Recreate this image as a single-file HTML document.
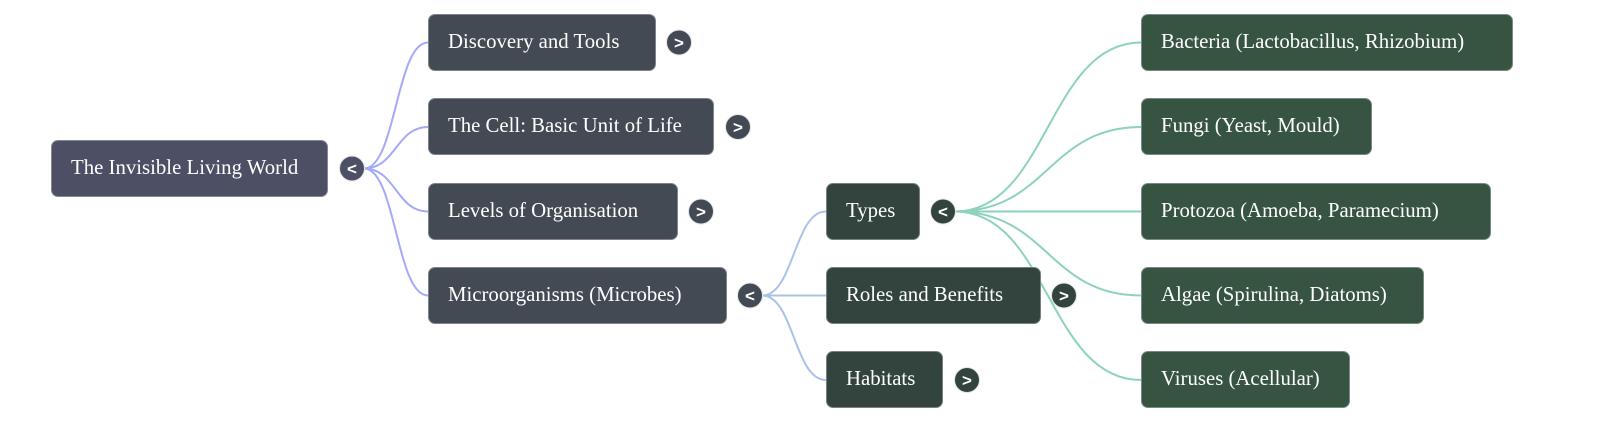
<!DOCTYPE html>
<html>
<head>
<meta charset="utf-8">
<style>
  html, body { margin:0; padding:0; background:#ffffff; }
  body { width:1600px; height:422px; position:relative; overflow:hidden; }
  .box { position:absolute; box-sizing:border-box; border-radius:7px; color:#ffffff;
         font-family:"Liberation Serif", "Times New Roman", serif; font-size:20.8px;
         line-height:53px; height:57px; padding-left:19px; white-space:nowrap;
         border:1px solid rgba(200,205,210,0.45); }
  .root { background:#4d4f65; }
  .l1 { background:#434a54; }
  .l2 { background:#33443f; }
  .l3 { background:#375443; }
  svg { position:absolute; left:0; top:0; }
  .btn { font-family:"Liberation Sans", "DejaVu Sans", sans-serif; font-size:17px; font-weight:bold; fill:#ffffff; }
</style>
</head>
<body>
<svg width="1600" height="422" viewBox="0 0 1600 422">
  <g fill="none" stroke-width="2">
    <g stroke="#a3aaf7">
      <path d="M364 168.5 C396 168.5 396 42.5 428 42.5"/>
      <path d="M364 168.5 C396 168.5 396 127 428 127"/>
      <path d="M364 168.5 C396 168.5 396 211.5 428 211.5"/>
      <path d="M364 168.5 C396 168.5 396 295.5 428 295.5"/>
    </g>
    <g stroke="#a9c3e6">
      <path d="M762 295.5 C794 295.5 794 211.5 826 211.5"/>
      <path d="M762 295.5 L826 295.5"/>
      <path d="M762 295.5 C794 295.5 794 380 826 380"/>
    </g>
    <g stroke="#8dd2bd">
      <path d="M955 211.5 C1048 211.5 1048 42.5 1141 42.5"/>
      <path d="M955 211.5 C1048 211.5 1048 127 1141 127"/>
      <path d="M955 211.5 L1141 211.5"/>
      <path d="M955 211.5 C1048 211.5 1048 295.5 1141 295.5"/>
      <path d="M955 211.5 C1048 211.5 1048 380 1141 380"/>
    </g>
  </g>
</svg>

<div class="box root" style="left:51px; top:140px; width:277px;">The Invisible Living World</div>

<div class="box l1" style="left:428px; top:14px; width:228px;">Discovery and Tools</div>
<div class="box l1" style="left:428px; top:98px; width:286px;">The Cell: Basic Unit of Life</div>
<div class="box l1" style="left:428px; top:183px; width:250px;">Levels of Organisation</div>
<div class="box l1" style="left:428px; top:267px; width:299px;">Microorganisms (Microbes)</div>

<div class="box l2" style="left:826px; top:183px; width:94px;">Types</div>
<div class="box l2" style="left:826px; top:267px; width:215px;">Roles and Benefits</div>
<div class="box l2" style="left:826px; top:351px; width:117px;">Habitats</div>

<div class="box l3" style="left:1141px; top:14px; width:372px;">Bacteria (Lactobacillus, Rhizobium)</div>
<div class="box l3" style="left:1141px; top:98px; width:231px;">Fungi (Yeast, Mould)</div>
<div class="box l3" style="left:1141px; top:183px; width:350px;">Protozoa (Amoeba, Paramecium)</div>
<div class="box l3" style="left:1141px; top:267px; width:283px;">Algae (Spirulina, Diatoms)</div>
<div class="box l3" style="left:1141px; top:351px; width:209px;">Viruses (Acellular)</div>

<svg width="1600" height="422" viewBox="0 0 1600 422">
  <g stroke="#e4e6ea" stroke-width="1">
    <circle cx="352" cy="168.5" r="12.5" fill="#4d4f65"/>
    <circle cx="679" cy="42.5" r="12.5" fill="#434a54"/>
    <circle cx="738" cy="127" r="12.5" fill="#434a54"/>
    <circle cx="701" cy="211.5" r="12.5" fill="#434a54"/>
    <circle cx="750" cy="295.5" r="12.5" fill="#434a54"/>
    <circle cx="943" cy="211.5" r="12.5" fill="#33443f"/>
    <circle cx="1064" cy="295.5" r="12.5" fill="#33443f"/>
    <circle cx="967" cy="380" r="12.5" fill="#33443f"/>
  </g>
  <g class="btn" text-anchor="middle">
    <text x="352" y="174.5">&lt;</text>
    <text x="679" y="48.5">&gt;</text>
    <text x="738" y="133">&gt;</text>
    <text x="701" y="217.5">&gt;</text>
    <text x="750" y="301.5">&lt;</text>
    <text x="943" y="217.5">&lt;</text>
    <text x="1064" y="301.5">&gt;</text>
    <text x="967" y="386">&gt;</text>
  </g>
</svg>
</body>
</html>
